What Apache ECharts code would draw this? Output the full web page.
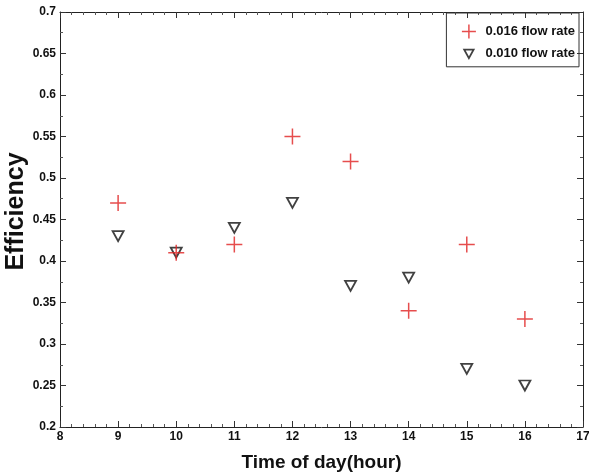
<!DOCTYPE html>
<html><head><meta charset="utf-8">
<script src="https://cdn.jsdelivr.net/npm/echarts@6/dist/echarts.min.js"></script>
<style>html,body{margin:0;padding:0;background:#fff}#c{width:589px;height:475px}</style>
</head><body><div id="c"></div>
<script>
const hours = [9, 10, 11, 12, 13, 14, 15, 16];
const rate016 = [0.47, 0.41, 0.42, 0.55, 0.52, 0.34, 0.42, 0.33];
const rate010 = [0.43, 0.41, 0.44, 0.47, 0.37, 0.38, 0.27, 0.25];
const seriesNames = ['0.016 flow rate', '0.010 flow rate'];
const xTitle = 'Time of day(hour)';
const yTitle = 'Efficiency';

const FONT = '"Liberation Sans", Arial, sans-serif';
const plusPath = 'path://M0,-10L0,10M-10,0L10,0';
const triPath = 'path://M-10,-9L10,-9L0,9Z';
const triLegendPath = 'path://M-16,-15M16,15M-10,-9L10,-9L0,9Z';
const labelStyle = {fontFamily: FONT, fontWeight: 'bold', fontSize: 12, color: '#111'};
const axisLine = {show: true, lineStyle: {color: '#222', width: 1}};
const tick = {show: true, inside: true, length: 6, lineStyle: {color: '#333'}};
const minor = {show: true, length: 3, lineStyle: {color: '#555'}};

const chart = echarts.init(document.getElementById('c'), null, {renderer: 'canvas'});
chart.setOption({
  animation: false,
  backgroundColor: '#fff',
  grid: {left: 60, right: 6, top: 12, bottom: 48, containLabel: false, outerBoundsMode: 'none'},
  legend: {
    right: 10, top: 13, orient: 'vertical', itemGap: 5,
    itemWidth: 17, itemHeight: 14,
    borderColor: '#333', borderWidth: 1, padding: [9, 4, 5, 13],
    textStyle: {fontFamily: FONT, fontWeight: 'bold', fontSize: 13, color: '#111', padding: [0, 0, 0, 3]},
    data: [
      {name: seriesNames[0], icon: plusPath, itemStyle: {color: 'none', borderColor: '#e02020', borderWidth: 1.5}},
      {name: seriesNames[1], icon: triLegendPath, itemStyle: {color: '#fff', borderColor: '#111', borderWidth: 1.8}}
    ]
  },
  xAxis: [{
    type: 'value', min: 8, max: 17, interval: 1,
    axisLine: axisLine, axisTick: tick,
    minorTick: Object.assign({splitNumber: 5}, minor),
    splitLine: {show: false},
    axisLabel: Object.assign({margin: 4}, labelStyle),
    name: xTitle, nameLocation: 'middle', nameGap: 26,
    nameTextStyle: {fontFamily: FONT, fontWeight: 'bold', fontSize: 19, color: '#111'}
  }, {
    type: 'value', min: 8, max: 17, interval: 1, position: 'top',
    axisLine: axisLine, axisTick: tick,
    minorTick: Object.assign({splitNumber: 5}, minor),
    splitLine: {show: false}, axisLabel: {show: false}
  }],
  yAxis: [{
    type: 'value', min: 0.2, max: 0.7, interval: 0.05,
    axisLine: axisLine, axisTick: tick,
    minorTick: Object.assign({splitNumber: 2}, minor),
    splitLine: {show: false},
    axisLabel: Object.assign({margin: 4, formatter: v => String(+v.toFixed(2))}, labelStyle),
    name: yTitle, nameLocation: 'middle', nameGap: 31, nameRotate: 90, nameMoveOverlap: false,
    nameTextStyle: {fontFamily: FONT, fontWeight: 'bold', fontSize: 25, color: '#111', padding: [0, 0, 0, 16]}
  }, {
    type: 'value', min: 0.2, max: 0.7, interval: 0.05, position: 'right',
    axisLine: axisLine, axisTick: tick,
    minorTick: Object.assign({splitNumber: 2}, minor),
    splitLine: {show: false}, axisLabel: {show: false}
  }],
  series: [{
    name: seriesNames[0], type: 'scatter', xAxisIndex: 0, yAxisIndex: 0,
    data: hours.map((h, i) => [h, rate016[i]]),
    symbol: plusPath, symbolSize: 16,
    itemStyle: {color: 'none', borderColor: '#e02020', borderWidth: 1.5},
    z: 3
  }, {
    name: seriesNames[1], type: 'scatter', xAxisIndex: 0, yAxisIndex: 0,
    data: hours.map((h, i) => [h, rate010[i]]),
    symbol: triPath, symbolSize: [11, 10],
    itemStyle: {color: '#fff', borderColor: '#111', borderWidth: 1.8},
    z: 2
  }]
});
</script></body></html>
